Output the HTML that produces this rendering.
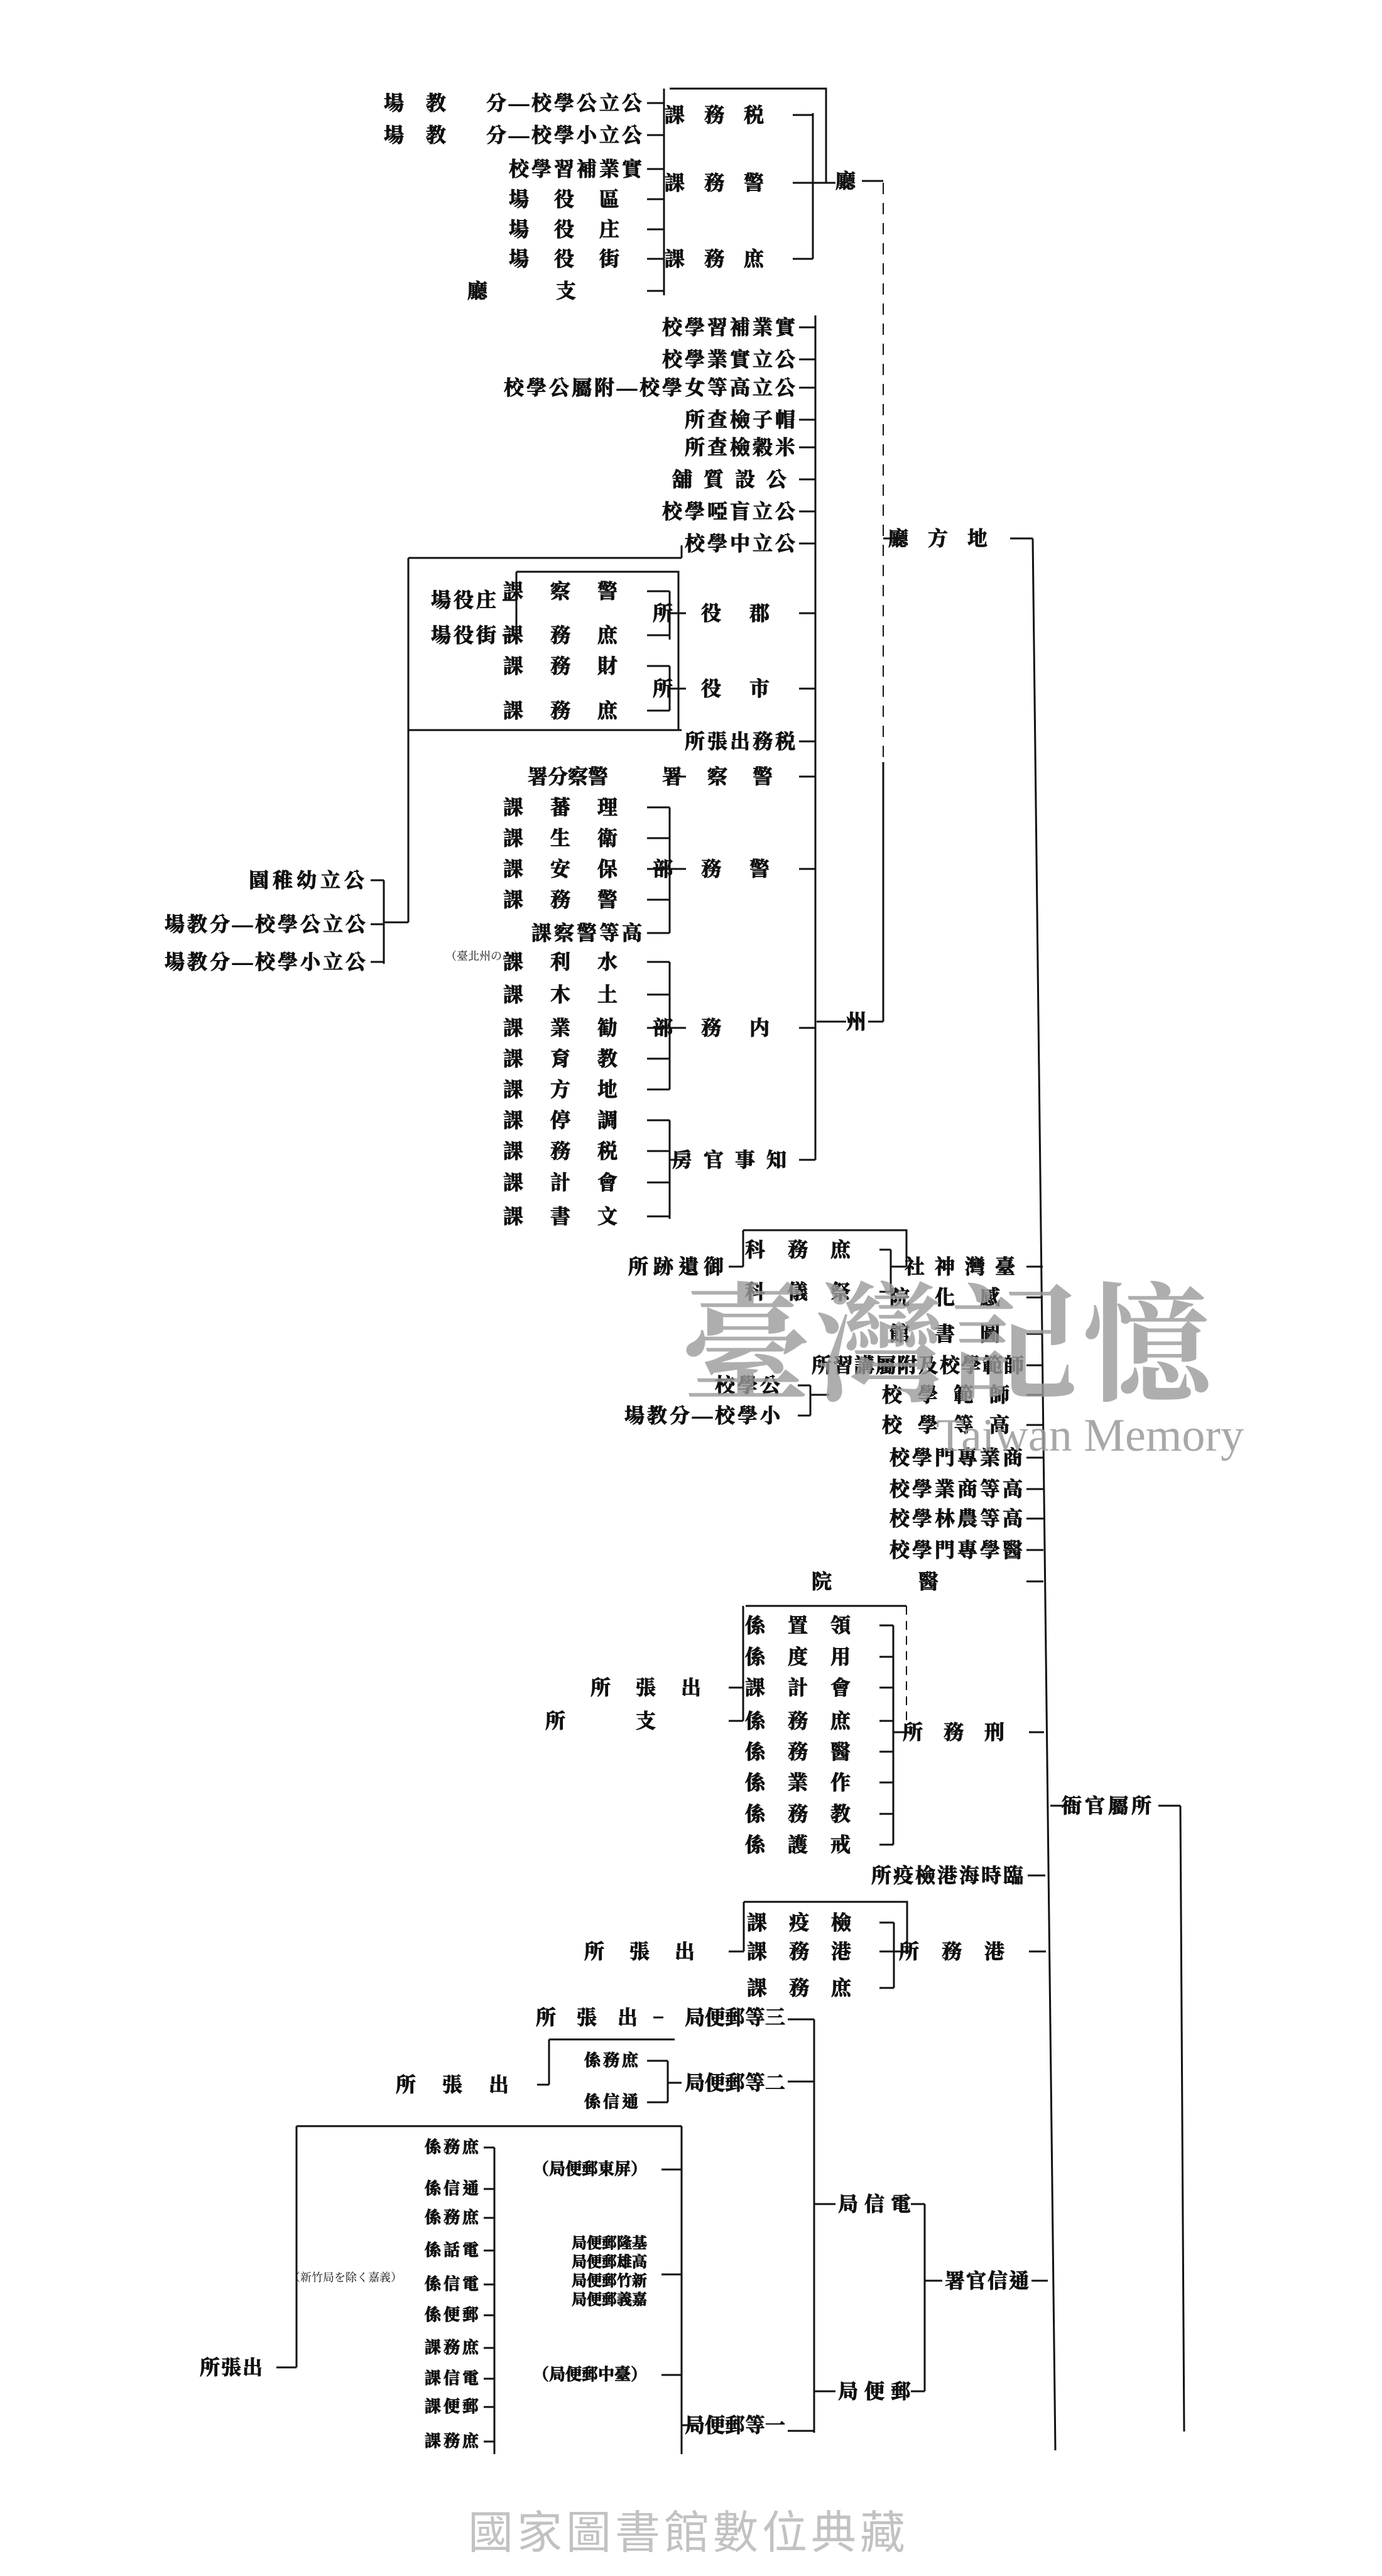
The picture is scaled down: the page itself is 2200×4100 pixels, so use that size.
<!DOCTYPE html>
<html><head><meta charset="utf-8">
<style>
html,body{margin:0;padding:0;background:#fff;}
body{width:2200px;height:4100px;position:relative;overflow:hidden;}
.t{position:absolute;white-space:nowrap;direction:rtl;unicode-bidi:bidi-override;font-family:"Liberation Serif","Noto Serif CJK TC","Noto Serif CJK SC",serif;font-size:32px;line-height:34px;color:#111;font-weight:700;-webkit-text-stroke:1px #111;}
.s{font-size:26px;line-height:28px;}
.xs{font-size:18px;line-height:20px;font-weight:400;-webkit-text-stroke:0;}
svg{position:absolute;left:0;top:0;}
.wm{position:absolute;white-space:nowrap;color:#9a9a9a;}
</style></head><body>
<svg width="2200" height="4100" viewBox="0 0 2200 4100">
<g stroke="#111" stroke-width="3" fill="none">
<path d="M1066 141 H1315 V291"/>
<path d="M1294 180 V412 M1262 183 H1294 M1262 291 H1294 M1262 412 H1294 M1294 291 H1330 M1372 288 H1406"/>
<path d="M1057 141 V470 M1030 164 H1057 M1030 215 H1057 M1030 269 H1057 M1030 317 H1057 M1030 365 H1057 M1030 412 H1057 M1030 463 H1057"/>
<path d="M1406 291 V1213" stroke-dasharray="18 14" stroke-width="2"/>
<path d="M1406 1213 V1626 M1382 1626 H1406 M1300 1626 H1347"/>
<path d="M1406 857 H1440 M1608 857 H1644 M1644 857 L1680 3900"/>
<path d="M1298 502 V1846"/>
<path d="M1272 521 H1298 M1272 572 H1298 M1272 617 H1298 M1272 668 H1298 M1272 712 H1298 M1272 763 H1298 M1272 814 H1298 M1272 865 H1298 M1272 976 H1298 M1272 1096 H1298 M1272 1180 H1298 M1272 1236 H1298 M1272 1383 H1298 M1272 1636 H1298 M1272 1846 H1298"/>
<path d="M1066 941 V1018 M1066 1060 V1131 M1066 976 H1092 M1066 1096 H1092 M1030 941 H1066 M1030 1011 H1066 M1030 1060 H1066 M1030 1131 H1066"/>
<path d="M822 910 H1080 V1162 M822 910 V1011 M800 955 H822 M800 1011 H822"/>
<path d="M650 888 H1085 M650 888 V1468 M650 1162 H1085 M1085 868 V888 M611 1468 H650 M611 1401 V1534 M590 1401 H611 M590 1471 H611 M590 1531 H611"/>
<path d="M1060 1236 H1092"/>
<path d="M1066 1285 V1485 M1066 1383 H1092 M1030 1285 H1066 M1030 1334 H1066 M1030 1383 H1066 M1030 1432 H1066 M1030 1485 H1066"/>
<path d="M1066 1531 V1734 M1066 1636 H1092 M1030 1531 H1066 M1030 1583 H1066 M1030 1636 H1066 M1030 1685 H1066 M1030 1734 H1066"/>
<path d="M1066 1783 V1940 M1066 1846 H1092 M1030 1783 H1066 M1030 1832 H1066 M1030 1882 H1066 M1030 1936 H1066"/>
<path d="M1634 2016 H1660 M1634 2065 H1660 M1634 2123 H1660 M1634 2173 H1660 M1634 2220 H1660 M1634 2268 H1660 M1634 2320 H1660 M1634 2370 H1661 M1634 2417 H1661 M1634 2467 H1661 M1634 2517 H1661 M1638 2757 H1662 M1636 2985 H1664 M1638 3106 H1665 M1642 3630 H1668 M1672 2874 H1703"/>
<path d="M1183 1958 H1443 V2016 M1183 1958 V2016 M1160 2016 H1183 M1418 1989 V2056 M1400 1989 H1418 M1400 2056 H1418 M1418 2016 H1443"/>
<path d="M1290 2205 V2253 M1270 2205 H1290 M1270 2253 H1290 M1290 2220 H1320"/>
<path d="M1422 2587 V2936 M1422 2757 H1450 M1400 2587 H1422 M1400 2637 H1422 M1400 2686 H1422 M1400 2739 H1422 M1400 2788 H1422 M1400 2837 H1422 M1400 2887 H1422 M1400 2936 H1422"/>
<path d="M1187 2556 H1443 M1183 2556 V2739 M1160 2686 H1183 M1160 2739 H1183"/>
<path d="M1443 2556 V2740" stroke-dasharray="14 10" stroke-width="2"/>
<path d="M1423 3060 V3164 M1423 3106 H1450 M1400 3060 H1423 M1400 3106 H1423 M1400 3164 H1423 M1184 3027 H1444 V3106 M1184 3027 V3106 M1160 3106 H1184"/>
<path d="M1879 2874 L1885 3870 M1844 2874 H1879"/>
<path d="M1472 3508 V3806 M1472 3630 H1500 M1450 3508 H1472 M1450 3806 H1472 M1296 3508 H1330 M1296 3806 H1330"/>
<path d="M1296 3214 V3872 M1254 3214 H1296 M1254 3313 H1296 M1254 3869 H1296 M1040 3211 H1056"/>
<path d="M1063 3280 V3346 M1063 3315 H1085 M1030 3280 H1063 M1030 3346 H1063 M874 3246 H1074 M874 3246 V3318 M855 3318 H874"/>
<path d="M1085 3384 V3906 M1085 3860 H1110 M472 3384 H1085 M472 3384 V3768 M440 3768 H472"/>
<path d="M1053 3453 H1085 M1053 3620 H1085 M1053 3780 H1085"/>
<path d="M787 3418 V3906 M770 3418 H787 M770 3484 H787 M770 3530 H787 M770 3582 H787 M770 3636 H787 M770 3685 H787 M770 3737 H787 M770 3786 H787 M770 3831 H787 M770 3886 H787"/>
</g>
</svg>

<div class="t" style="right:953px;top:166px;letter-spacing:31px">税務課</div>
<div class="t" style="right:953px;top:274px;letter-spacing:31px">警務課</div>
<div class="t" style="right:953px;top:395px;letter-spacing:31px">庶務課</div>
<div class="t" style="right:838px;top:271px">廳</div>
<div class="t" style="right:1174px;top:147px;letter-spacing:4px">公立公學校—分</div>
<div class="t" style="right:1455px;top:147px;letter-spacing:35px">教場</div>
<div class="t" style="right:1174px;top:198px;letter-spacing:4px">公立小學校—分</div>
<div class="t" style="right:1455px;top:198px;letter-spacing:35px">教場</div>
<div class="t" style="right:1174px;top:252px;letter-spacing:4px">實業補習學校</div>
<div class="t" style="right:1174px;top:300px;letter-spacing:40px">區役場</div>
<div class="t" style="right:1174px;top:348px;letter-spacing:40px">庄役場</div>
<div class="t" style="right:1174px;top:395px;letter-spacing:40px">街役場</div>
<div class="t" style="right:1174px;top:446px;letter-spacing:109px">支廳</div>
<div class="t" style="right:597px;top:840px;letter-spacing:31px">地方廳</div>
<div class="t" style="right:821px;top:1609px">州</div>

<div class="t" style="right:930px;top:504px;letter-spacing:4px">實業補習學校</div>
<div class="t" style="right:930px;top:555px;letter-spacing:4px">公立實業學校</div>
<div class="t" style="right:930px;top:600px;letter-spacing:4px">公立高等女學校—附屬公學校</div>
<div class="t" style="right:930px;top:651px;letter-spacing:4px">帽子檢查所</div>
<div class="t" style="right:930px;top:695px;letter-spacing:4px">米穀檢查所</div>
<div class="t" style="right:930px;top:746px;letter-spacing:18px">公設質舖</div>
<div class="t" style="right:930px;top:797px;letter-spacing:4px">公立盲啞學校</div>
<div class="t" style="right:930px;top:848px;letter-spacing:4px">公立中學校</div>

<div class="t" style="right:930px;top:959px;letter-spacing:45px">郡役所</div>
<div class="t" style="right:930px;top:1079px;letter-spacing:45px">市役所</div>
<div class="t" style="right:930px;top:1163px;letter-spacing:4px">税務出張所</div>
<div class="t" style="right:930px;top:1219px;letter-spacing:40px">警察署</div>
<div class="t" style="right:1232px;top:1219px">警察分署</div>
<div class="t" style="right:930px;top:1366px;letter-spacing:45px">警務部</div>
<div class="t" style="right:930px;top:1619px;letter-spacing:45px">内務部</div>
<div class="t" style="right:930px;top:1829px;letter-spacing:18px">知事官房</div>

<div class="t" style="right:1174px;top:924px;letter-spacing:43px">警察課</div>
<div class="t" style="right:1174px;top:994px;letter-spacing:43px">庶務課</div>
<div class="t" style="right:1174px;top:1043px;letter-spacing:43px">財務課</div>
<div class="t" style="right:1174px;top:1114px;letter-spacing:43px">庶務課</div>
<div class="t" style="right:1406px;top:938px;letter-spacing:4px">庄役場</div>
<div class="t" style="right:1406px;top:994px;letter-spacing:4px">街役場</div>
<div class="t" style="right:1614px;top:1384px;letter-spacing:6px">公立幼稚園</div>
<div class="t" style="right:1614px;top:1454px;letter-spacing:4px">公立公學校—分教場</div>
<div class="t" style="right:1614px;top:1514px;letter-spacing:4px">公立小學校—分教場</div>

<div class="t" style="right:1174px;top:1268px;letter-spacing:43px">理蕃課</div>
<div class="t" style="right:1174px;top:1317px;letter-spacing:43px">衛生課</div>
<div class="t" style="right:1174px;top:1366px;letter-spacing:43px">保安課</div>
<div class="t" style="right:1174px;top:1415px;letter-spacing:43px">警務課</div>
<div class="t" style="right:1174px;top:1468px;letter-spacing:4px">高等警察課</div>
<div class="t" style="right:1174px;top:1514px;letter-spacing:43px">水利課</div>
<div class="t xs" style="right:1365px;top:1512px;direction:ltr">（臺北州のみ）</div>
<div class="t" style="right:1174px;top:1566px;letter-spacing:43px">土木課</div>
<div class="t" style="right:1174px;top:1619px;letter-spacing:43px">勧業課</div>
<div class="t" style="right:1174px;top:1668px;letter-spacing:43px">教育課</div>
<div class="t" style="right:1174px;top:1717px;letter-spacing:43px">地方課</div>
<div class="t" style="right:1174px;top:1766px;letter-spacing:43px">調停課</div>
<div class="t" style="right:1174px;top:1815px;letter-spacing:43px">税務課</div>
<div class="t" style="right:1174px;top:1865px;letter-spacing:43px">會計課</div>
<div class="t" style="right:1174px;top:1919px;letter-spacing:43px">文書課</div>

<div class="t" style="right:568px;top:1999px;letter-spacing:16px">臺灣神社</div>
<div class="t" style="right:568px;top:2048px;letter-spacing:40px">感化院</div>
<div class="t" style="right:568px;top:2106px;letter-spacing:40px">圖書館</div>
<div class="t" style="right:568px;top:2156px;letter-spacing:2px">師範學校及附屬講習所</div>
<div class="t" style="right:568px;top:2203px;letter-spacing:25px">師範學校</div>
<div class="t" style="right:568px;top:2251px;letter-spacing:25px">高等學校</div>
<div class="t" style="right:568px;top:2303px;letter-spacing:4px">商業專門學校</div>
<div class="t" style="right:568px;top:2353px;letter-spacing:4px">高等商業學校</div>
<div class="t" style="right:568px;top:2400px;letter-spacing:4px">高等農林學校</div>
<div class="t" style="right:568px;top:2450px;letter-spacing:4px">醫學專門學校</div>
<div class="t" style="right:568px;top:2500px;letter-spacing:138px">醫院</div>
<div class="t" style="right:954px;top:2188px;letter-spacing:4px">公學校</div>
<div class="t" style="right:954px;top:2236px;letter-spacing:4px">小學校—分教場</div>
<div class="t" style="right:810px;top:1972px;letter-spacing:36px">庶務科</div>
<div class="t" style="right:810px;top:2039px;letter-spacing:36px">祭儀科</div>
<div class="t" style="right:1040px;top:1999px;letter-spacing:8px">御遺跡所</div>

<div class="t" style="right:568px;top:2740px;letter-spacing:33px">刑務所</div>
<div class="t" style="right:810px;top:2570px;letter-spacing:36px">領置係</div>
<div class="t" style="right:810px;top:2620px;letter-spacing:36px">用度係</div>
<div class="t" style="right:810px;top:2669px;letter-spacing:36px">會計課</div>
<div class="t" style="right:810px;top:2722px;letter-spacing:36px">庶務係</div>
<div class="t" style="right:810px;top:2771px;letter-spacing:36px">醫務係</div>
<div class="t" style="right:810px;top:2820px;letter-spacing:36px">作業係</div>
<div class="t" style="right:810px;top:2870px;letter-spacing:36px">教務係</div>
<div class="t" style="right:810px;top:2919px;letter-spacing:36px">戒護係</div>
<div class="t" style="right:1044px;top:2669px;letter-spacing:40px">出張所</div>
<div class="t" style="right:1044px;top:2722px;letter-spacing:112px">支所</div>
<div class="t" style="right:568px;top:2968px;letter-spacing:3px">臨時海港檢疫所</div>
<div class="t" style="right:565px;top:3089px;letter-spacing:36px">港務所</div>
<div class="t" style="right:810px;top:3043px;letter-spacing:35px">檢疫課</div>
<div class="t" style="right:810px;top:3089px;letter-spacing:35px">港務課</div>
<div class="t" style="right:810px;top:3147px;letter-spacing:35px">庶務課</div>
<div class="t" style="right:1054px;top:3089px;letter-spacing:40px">出張所</div>
<div class="t" style="right:362px;top:2857px;letter-spacing:5px">所屬官衙</div>

<div class="t" style="right:560px;top:3613px;letter-spacing:2px">通信官署</div>
<div class="t" style="right:740px;top:3491px;letter-spacing:10px">電信局</div>
<div class="t" style="right:740px;top:3789px;letter-spacing:10px">郵便局</div>
<div class="t" style="right:950px;top:3194px">三等郵便局</div>
<div class="t" style="right:1152px;top:3194px;letter-spacing:33px">出張所</div>
<div class="t" style="right:950px;top:3298px">二等郵便局</div>
<div class="t s" style="right:1180px;top:3266px;letter-spacing:4px">庶務係</div>
<div class="t s" style="right:1180px;top:3332px;letter-spacing:4px">通信係</div>
<div class="t" style="right:1348px;top:3301px;letter-spacing:42px">出張所</div>
<div class="t" style="right:950px;top:3843px">一等郵便局</div>
<div class="t s" style="right:1170px;top:3439px">（屏東郵便局）</div>
<div class="t s" style="right:1170px;top:3558px;font-size:24px;line-height:26px">基隆郵便局</div>
<div class="t s" style="right:1170px;top:3588px;font-size:24px;line-height:26px">高雄郵便局</div>
<div class="t s" style="right:1170px;top:3618px;font-size:24px;line-height:26px">新竹郵便局</div>
<div class="t s" style="right:1170px;top:3648px;font-size:24px;line-height:26px">嘉義郵便局</div>
<div class="t s" style="right:1170px;top:3766px">（臺中郵便局）</div>
<div class="t s" style="right:1434px;top:3404px;letter-spacing:4px">庶務係</div>
<div class="t s" style="right:1434px;top:3470px;letter-spacing:4px">通信係</div>
<div class="t s" style="right:1434px;top:3516px;letter-spacing:4px">庶務係</div>
<div class="t s" style="right:1434px;top:3568px;letter-spacing:4px">電話係</div>
<div class="t s" style="right:1434px;top:3622px;letter-spacing:4px">電信係</div>
<div class="t s" style="right:1434px;top:3671px;letter-spacing:4px">郵便係</div>
<div class="t s" style="right:1434px;top:3723px;letter-spacing:4px">庶務課</div>
<div class="t s" style="right:1434px;top:3772px;letter-spacing:4px">電信課</div>
<div class="t s" style="right:1434px;top:3817px;letter-spacing:4px">郵便課</div>
<div class="t s" style="right:1434px;top:3872px;letter-spacing:4px">庶務課</div>
<div class="t xs" style="right:1560px;top:3615px;direction:ltr">（新竹局を除く嘉義）</div>
<div class="t" style="right:1780px;top:3751px;letter-spacing:2px">出張所</div>

<div class="wm" style="left:1085px;top:1995px;font-family:'Noto Serif CJK TC','Noto Serif CJK SC',serif;font-size:205px;line-height:260px;font-weight:700;letter-spacing:8px;opacity:0.8">臺灣記憶</div>
<div class="wm" style="left:1490px;top:2240px;font-family:'Liberation Serif',serif;font-size:74px;line-height:90px;opacity:0.85">Taiwan Memory</div>
<div class="wm" style="left:745px;top:3992px;font-family:'Liberation Sans','Noto Sans CJK TC',sans-serif;font-size:72px;line-height:80px;letter-spacing:6px;color:#c2c2c2">國家圖書館數位典藏</div>
</body></html>
